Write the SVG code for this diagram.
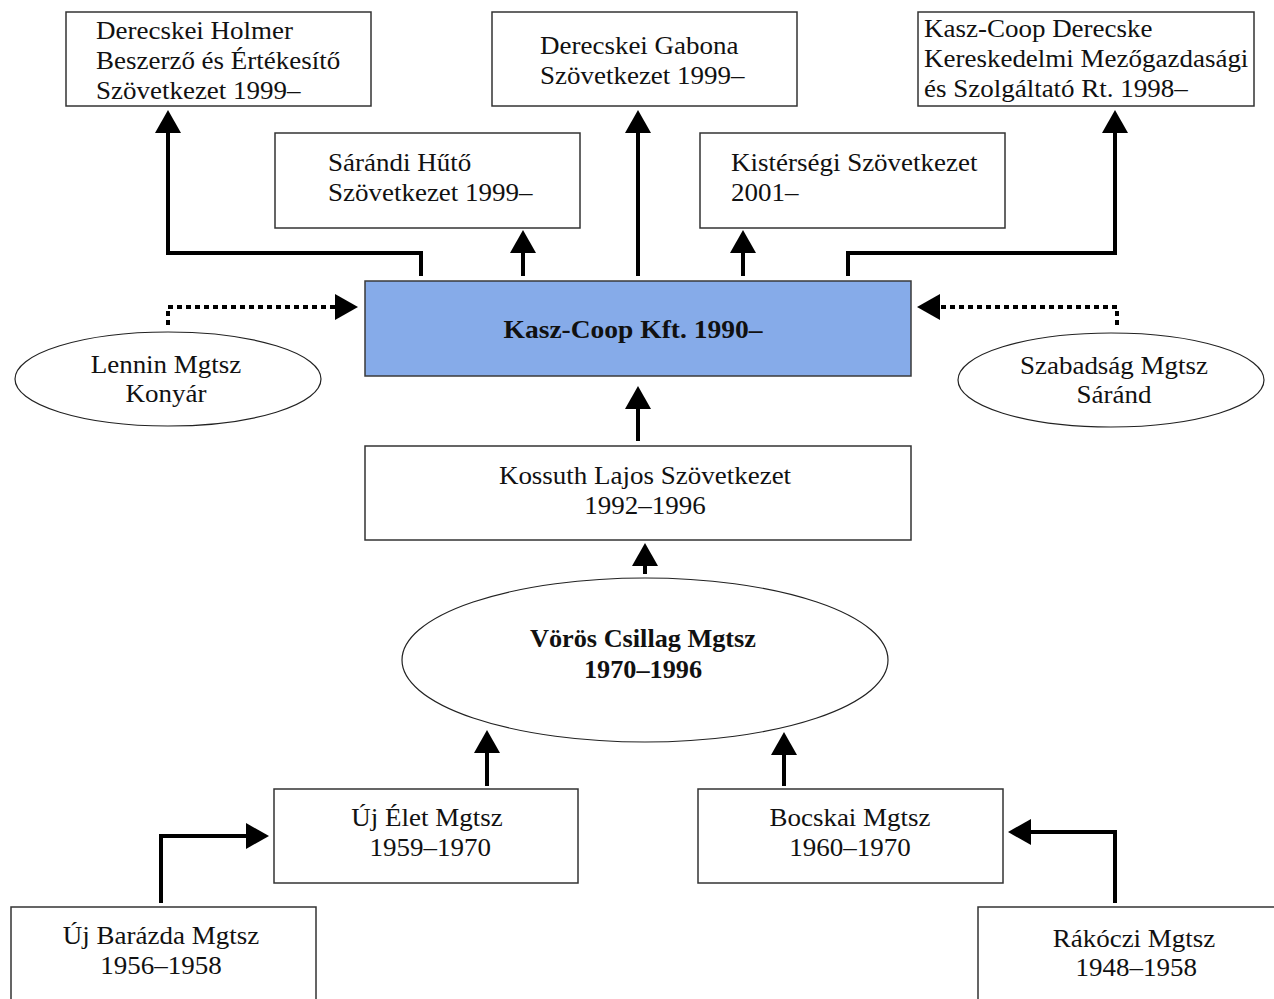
<svg xmlns="http://www.w3.org/2000/svg" width="1274" height="999" viewBox="0 0 1274 999">
<style>
.box{fill:#fff;stroke:#333;stroke-width:1.5}
.main{fill:#86ABE9;stroke:#3a3a3a;stroke-width:1.5}
.ell{fill:#fff;stroke:#222;stroke-width:1.2}
.t{font-family:"Liberation Serif","Times New Roman",serif;font-size:25px;fill:#111}
.b{font-weight:bold}
.c{text-anchor:middle}
.ln{fill:none;stroke:#000;stroke-width:4;stroke-linejoin:miter;marker-end:url(#ah)}
.dot{stroke-dasharray:5 4}
</style>
<defs>
<marker id="ah" markerUnits="userSpaceOnUse" markerWidth="23" markerHeight="26" viewBox="0 0 23 26" refX="0" refY="13" orient="auto">
<path d="M0,0 L23,13 L0,26 z" fill="#000"/>
</marker>
</defs>
<rect width="1274" height="999" fill="#fff"/>
<g id="connectors">
<path class="ln" d="M421,276 V253 H168 V133"/>
<path class="ln" d="M523,276 V253"/>
<path class="ln" d="M638,276 V133"/>
<path class="ln" d="M743,276 V253"/>
<path class="ln" d="M848,276 V253 H1115 V133"/>
<path class="ln dot" d="M168,325 V307 H335"/>
<path class="ln dot" d="M1117,325 V307 H940"/>
<path class="ln" d="M638,441 V409"/>
<path class="ln" d="M645,574 V566"/>
<path class="ln" d="M487,786 V753"/>
<path class="ln" d="M784,786 V755"/>
<path class="ln" d="M161,903 V836 H246"/>
<path class="ln" d="M1115,903 V832 H1031"/>
</g>
<g id="n-holmer">
<rect class="box" x="66" y="12" width="305" height="94"/>
<text class="t" transform="translate(96 39) scale(1.08 1)"><tspan x="0" y="0">Derecskei Holmer</tspan><tspan x="0" y="30">Beszerző és Értékesítő</tspan><tspan x="0" y="60">Szövetkezet 1999–</tspan></text>
</g>
<g id="n-gabona">
<rect class="box" x="492" y="12" width="305" height="94"/>
<text class="t" transform="translate(540 54) scale(1.08 1)"><tspan x="0" y="0">Derecskei Gabona</tspan><tspan x="0" y="30">Szövetkezet 1999–</tspan></text>
</g>
<g id="n-kaszcoop-rt">
<rect class="box" x="918" y="12" width="336" height="94"/>
<text class="t" transform="translate(924 37) scale(1.08 1)"><tspan x="0" y="0">Kasz-Coop Derecske</tspan><tspan x="0" y="30">Kereskedelmi Mezőgazdasági</tspan><tspan x="0" y="60">és Szolgáltató Rt. 1998–</tspan></text>
</g>
<g id="n-sarandi">
<rect class="box" x="275" y="133" width="305" height="95"/>
<text class="t" transform="translate(328 171) scale(1.08 1)"><tspan x="0" y="0">Sárándi Hűtő</tspan><tspan x="0" y="30">Szövetkezet 1999–</tspan></text>
</g>
<g id="n-kisterseg">
<rect class="box" x="700" y="133" width="305" height="95"/>
<text class="t" transform="translate(731 171) scale(1.08 1)"><tspan x="0" y="0">Kistérségi Szövetkezet</tspan><tspan x="0" y="30">2001–</tspan></text>
</g>
<g id="n-kft">
<rect class="main" x="365" y="281" width="546" height="95"/>
<text class="t b c" transform="translate(633 338) scale(1.1 1)">Kasz-Coop Kft. 1990–</text>
</g>
<g id="n-lennin">
<ellipse class="ell" cx="168" cy="379" rx="153" ry="47"/>
<text class="t c" transform="translate(166 373) scale(1.08 1)"><tspan x="0" y="0">Lennin Mgtsz</tspan><tspan x="0" y="29">Konyár</tspan></text>
</g>
<g id="n-szabadsag">
<ellipse class="ell" cx="1111" cy="380" rx="153" ry="47"/>
<text class="t c" transform="translate(1114 374) scale(1.08 1)"><tspan x="0" y="0">Szabadság Mgtsz</tspan><tspan x="0" y="29">Sáránd</tspan></text>
</g>
<g id="n-kossuth">
<rect class="box" x="365" y="446" width="546" height="94"/>
<text class="t c" transform="translate(645 484) scale(1.08 1)"><tspan x="0" y="0">Kossuth Lajos Szövetkezet</tspan><tspan x="0" y="30">1992–1996</tspan></text>
</g>
<g id="n-voros">
<ellipse class="ell" cx="645" cy="660" rx="243" ry="82"/>
<text class="t b c" transform="translate(643 647) scale(1.05 1)"><tspan x="0" y="0">Vörös Csillag Mgtsz</tspan><tspan x="0" y="31">1970–1996</tspan></text>
</g>
<g id="n-ujelet">
<rect class="box" x="274" y="789" width="304" height="94"/>
<text class="t c" transform="translate(427 826) scale(1.08 1)"><tspan x="0" y="0">Új Élet Mgtsz</tspan><tspan x="3" y="30">1959–1970</tspan></text>
</g>
<g id="n-bocskai">
<rect class="box" x="698" y="789" width="305" height="94"/>
<text class="t c" transform="translate(850 826) scale(1.08 1)"><tspan x="0" y="0">Bocskai Mgtsz</tspan><tspan x="0" y="30">1960–1970</tspan></text>
</g>
<g id="n-ujbarazda">
<rect class="box" x="11" y="907" width="305" height="100"/>
<text class="t c" transform="translate(161 944) scale(1.08 1)"><tspan x="0" y="0">Új Barázda Mgtsz</tspan><tspan x="0" y="30">1956–1958</tspan></text>
</g>
<g id="n-rakoczi">
<rect class="box" x="978" y="907" width="305" height="100"/>
<text class="t c" transform="translate(1134 947) scale(1.08 1)"><tspan x="0" y="0">Rákóczi Mgtsz</tspan><tspan x="2" y="29">1948–1958</tspan></text>
</g>
</svg>
